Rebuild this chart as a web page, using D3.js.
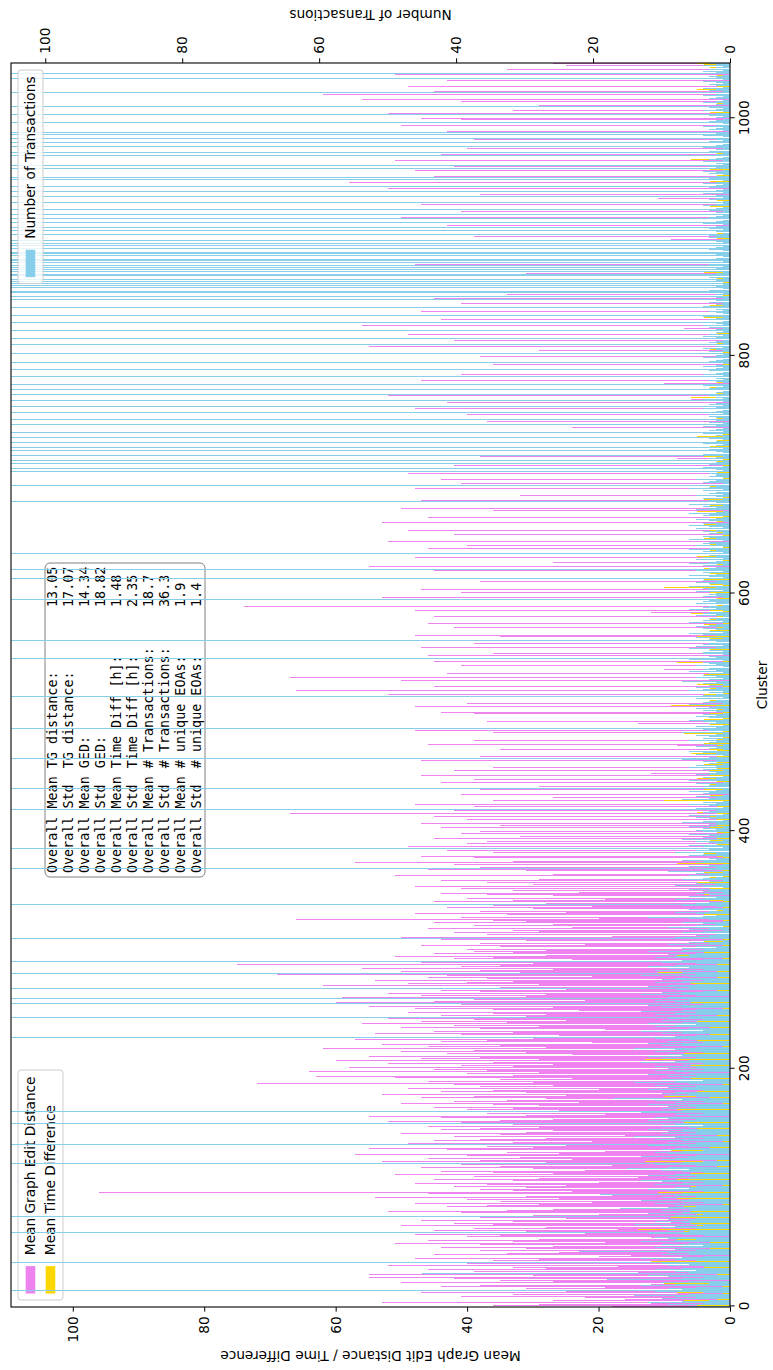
<!DOCTYPE html>
<html>
<head>
<meta charset="utf-8">
<script src="https://cdn.jsdelivr.net/npm/d3@7"></script>
<style>
  html, body { margin: 0; padding: 0; background: #fff; }
  svg { display: block; font-family: "DejaVu Sans", sans-serif; }
</style>
</head>
<body>
<svg id="chart" width="773" height="1370"></svg>
<script>
// Mean graph edit distance per cluster (left axis)
const ged = [
18,36,29,12,53,27,16,0,22,41,33,8,47,25,84,31,19,44,38,12,50,27,35,9,42,55,30,55,21,14,39,46,28,33,17,52,40,24,11,36,29,48,20,15,45,34,26,38,8,31,
44,27,38,51,19,33,46,29,12,40,35,48,22,31,45,17,39,28,50,36,42,9,33,47,25,38,44,30,20,41,52,34,27,16,43,37,29,48,21,35,40,26,54,31,18,46,96,24,33,38,
31,42,25,37,48,20,33,45,29,14,39,51,27,36,44,22,30,47,35,18,41,28,53,38,24,46,32,40,57,26,34,19,43,55,30,37,25,49,33,21,45,38,28,42,16,35,50,31,27,44,
38,29,46,33,22,41,52,35,27,44,55,31,19,37,48,26,40,33,45,29,36,50,23,42,34,28,47,39,25,53,31,44,36,20,49,38,27,42,72,30,46,35,24,51,63,33,40,29,64,37,
45,58,33,41,27,52,36,60,29,47,38,55,24,43,31,50,39,62,28,46,35,53,21,44,37,57,30,48,26,41,54,33,45,19,38,50,29,42,56,34,47,25,39,52,31,44,28,36,49,23,
36,48,27,55,41,33,60,45,22,39,59,31,47,28,52,38,44,25,57,35,62,29,49,40,33,54,37,46,21,43,69,32,50,38,27,56,41,35,75,30,47,58,24,42,36,51,28,45,33,39,
28,40,0,35,47,22,38,0,31,44,26,50,18,37,0,42,29,33,46,24,0,39,27,45,31,36,66,20,41,0,34,48,25,38,0,30,43,21,36,28,0,45,33,19,40,0,27,37,44,23,
33,0,41,0,48,30,0,37,0,44,29,0,0,51,27,0,0,31,46,0,38,0,42,0,57,33,0,0,39,47,0,0,36,0,43,0,27,49,0,0,40,0,37,0,45,0,32,0,41,0,
38,0,0,44,0,35,0,47,0,0,40,0,0,45,0,67,0,0,42,0,0,39,0,48,0,0,36,0,0,27,0,41,0,0,0,38,0,0,29,0,0,44,0,0,39,0,0,47,0,12,
0,42,0,0,36,0,0,0,0,0,47,0,0,38,0,0,0,0,0,35,0,0,8,46,0,0,0,39,0,0,0,0,0,36,0,48,0,0,0,0,0,14,0,37,0,0,0,0,0,39,
44,0,0,0,0,48,0,0,40,0,0,0,0,0,31,52,0,0,0,66,0,0,45,0,0,0,0,50,0,0,67,0,0,43,0,0,10,0,0,0,41,0,0,45,0,0,0,0,46,0,
36,0,0,0,0,47,0,0,39,0,0,0,0,0,35,48,0,0,0,0,0,0,42,0,0,46,0,0,0,0,0,45,0,0,12,0,48,0,0,74,0,0,0,0,0,39,0,53,0,0,
0,41,0,0,47,0,0,0,0,0,38,0,0,49,0,0,0,0,0,0,45,0,0,55,0,0,27,0,0,0,0,48,0,0,0,0,0,0,46,0,0,40,0,0,52,0,0,0,0,0,
42,0,0,49,0,0,0,0,0,0,53,0,0,0,46,0,0,0,0,0,36,0,50,0,0,0,0,0,0,47,0,0,0,32,0,0,0,0,0,48,0,0,0,41,0,0,44,0,0,0,
0,49,0,45,0,0,0,0,42,0,0,0,0,0,8,0,38,0,0,0,0,44,0,0,0,0,0,12,0,0,0,0,46,0,0,0,0,0,0,0,24,0,0,0,0,37,0,0,0,0,
0,40,0,0,0,0,48,0,0,0,0,43,0,0,6,0,0,52,0,0,0,0,45,0,0,0,0,10,0,0,47,0,0,0,0,41,0,0,0,0,0,0,0,36,0,50,0,0,0,0,
38,0,0,0,0,29,0,0,55,0,0,0,0,42,0,0,0,0,49,0,0,0,0,7,0,0,56,0,0,0,0,44,0,0,0,0,0,0,47,0,0,0,0,0,41,0,0,0,0,45,
0,0,34,0,0,0,0,0,0,0,0,0,0,38,0,0,0,0,0,0,31,0,0,0,0,0,0,48,0,0,0,0,0,0,0,0,0,0,0,0,0,44,0,0,0,0,0,0,9,0,
0,39,0,0,0,0,0,0,0,0,43,0,0,0,0,0,0,50,0,0,0,0,41,0,0,0,0,0,47,0,0,0,0,11,0,0,38,0,0,0,0,52,0,0,0,0,58,0,0,40,
0,45,0,0,0,0,48,0,0,0,42,0,0,0,0,51,0,0,0,0,44,0,0,0,0,40,0,0,0,0,7,0,39,0,0,0,0,0,0,43,0,0,0,0,50,0,0,0,0,41,
47,0,0,0,52,0,0,33,0,0,0,29,0,0,41,0,56,0,0,0,62,0,0,45,0,0,0,49,0,0,0,0,43,0,0,0,0,51,0,0,0,34,0,0,0,25,27
];

// Mean time difference per cluster [h] (left axis)
const timeDiff = [
2,5,1,0,3,7,2,4,0,6,3,1,8,2,0,4,5,1,3,10,2,6,0,3,4,1,7,2,5,0,3,9,1,4,2,6,0,3,12,2,5,1,4,0,3,7,2,1,5,3,
4,2,0,6,3,1,8,2,5,0,3,4,1,7,2,14,3,0,5,2,6,1,4,3,0,9,2,5,1,3,6,0,4,2,7,3,1,5,0,2,4,8,3,1,6,2,11,3,0,4,
3,6,1,4,0,5,2,8,3,1,4,2,6,0,3,5,1,7,2,4,0,3,13,2,5,1,4,3,0,6,2,9,1,4,3,0,5,2,7,1,3,4,0,6,2,3,5,1,4,2,
5,1,3,0,4,7,2,3,1,5,0,6,2,4,3,1,8,2,0,5,3,1,4,6,2,0,3,10,1,4,2,5,3,0,7,2,4,1,3,5,0,2,6,3,1,4,2,0,5,3,
2,4,0,6,3,1,5,2,13,0,4,3,1,7,2,5,0,3,4,1,6,2,3,0,5,2,8,1,4,3,0,6,2,5,1,3,4,0,7,2,5,1,3,4,0,2,9,1,3,4,
3,1,5,2,0,4,6,1,3,2,5,0,4,3,7,1,2,5,0,3,4,2,6,1,3,0,5,2,4,1,3,11,2,0,4,3,1,6,2,5,0,3,4,1,2,8,3,0,4,2,
1,2,0,3,1,0,2,4,0,1,3,0,2,1,0,5,1,2,0,3,1,0,2,7,0,1,3,0,2,1,4,0,1,2,0,3,1,0,6,2,0,1,3,0,2,1,0,4,1,2,
0,1,3,0,2,1,0,5,1,2,0,3,1,0,2,4,0,1,2,0,3,1,0,8,2,1,0,3,1,2,0,4,1,0,2,3,0,1,5,2,0,1,3,0,2,1,0,4,1,2,
2,0,1,3,0,2,1,0,4,1,2,0,3,1,0,2,5,0,1,3,0,2,1,0,3,1,10,0,2,1,3,0,1,2,0,4,1,0,2,3,0,1,2,0,5,1,0,3,1,2,
0,3,1,2,0,1,4,0,2,1,0,3,1,2,0,6,1,0,2,3,0,1,2,0,4,1,0,2,3,1,0,2,7,0,1,3,0,2,1,0,3,1,2,0,4,1,0,2,1,3,
1,0,2,3,0,1,9,0,2,1,3,0,1,2,0,4,1,0,2,1,3,0,1,5,0,2,1,0,3,1,2,0,4,1,0,2,1,3,0,1,2,0,8,1,0,3,1,2,0,1,
2,1,0,3,1,2,0,4,1,0,2,1,3,0,5,1,2,0,1,3,0,2,1,0,4,1,2,0,3,1,0,2,1,6,0,1,3,2,0,1,2,0,3,1,0,4,2,1,0,2,
1,3,0,2,1,10,0,1,3,2,0,1,4,0,2,1,0,3,1,2,0,4,1,0,2,1,3,0,1,2,0,5,1,0,2,1,3,0,2,1,0,3,1,2,0,1,4,0,2,1,
0,2,1,3,0,1,2,0,4,1,0,2,1,0,3,1,2,0,1,5,0,2,1,0,3,1,0,2,1,4,0,1,2,0,3,1,0,2,1,0,3,2,0,1,2,0,4,1,0,2,
1,0,2,0,1,0,3,0,1,0,0,2,0,1,0,4,0,1,0,0,2,0,1,0,3,0,0,1,0,2,0,0,5,0,1,0,0,2,0,1,0,0,3,0,1,0,0,2,0,1,
0,2,0,1,0,0,3,0,1,0,2,0,0,1,0,6,0,0,2,0,1,0,0,3,0,1,0,0,2,0,0,1,0,4,0,0,1,0,2,0,0,3,0,1,0,0,2,0,0,1,
2,0,0,1,0,3,0,1,0,0,2,0,1,0,0,7,0,1,0,2,0,0,1,0,3,0,0,2,0,1,0,0,4,0,1,0,0,2,0,1,0,0,3,0,0,1,0,2,0,0,
0,1,0,0,2,0,0,1,0,3,0,0,1,0,0,2,0,0,1,0,4,0,0,1,0,0,2,0,0,1,0,3,0,0,1,0,0,2,0,0,1,0,0,3,0,0,1,0,0,2,
0,1,0,2,0,0,1,0,3,0,0,1,0,2,0,0,5,0,1,0,0,2,0,0,1,0,3,0,0,1,0,2,0,0,1,0,0,4,0,1,0,0,2,0,0,1,0,3,0,0,
1,0,2,0,0,1,0,3,0,0,1,0,2,0,0,6,0,1,0,0,2,0,1,0,0,3,0,0,1,0,2,0,0,4,0,1,0,0,2,0,1,0,0,3,0,0,1,0,2,0,
0,2,0,1,0,3,0,0,1,0,4,0,2,0,0,1,0,3,0,0,2,0,1,0,5,0,0,2,0,1,0,3,0,0,1,0,2,0,6,0,1,0,0,3,0,4,5
];

// Number of transactions per cluster (right axis)
const transactions = [
6,9,4,12,7,3,10,5,8,14,6,4,11,150,7,9,5,13,8,3,10,6,18,7,4,9,12,45,6,8,5,11,7,4,9,6,10,180,5,8,13,7,4,10,6,9,22,5,8,11,
7,4,10,6,13,8,5,9,11,4,7,12,130,6,9,5,10,8,4,14,7,11,6,9,5,240,8,4,12,7,10,6,16,9,5,8,11,4,7,13,6,10,5,8,19,7,4,9,12,6,
8,5,11,7,4,10,13,6,9,5,12,8,4,7,10,6,15,9,5,11,160,7,4,10,8,6,13,5,9,11,7,4,10,8,6,12,200,5,9,7,11,4,8,14,6,10,5,9,7,12,
6,10,4,8,140,7,12,5,9,11,6,8,4,13,300,7,10,5,9,6,12,8,4,11,7,17,5,9,6,10,8,4,12,7,9,5,11,6,14,8,4,10,7,9,5,12,6,8,11,4,
9,5,11,7,4,13,8,6,10,5,12,7,9,4,11,6,8,14,5,10,7,12,4,9,6,11,170,8,5,10,7,13,4,9,6,11,8,5,12,7,10,4,9,190,6,11,8,5,13,7,
5,10,7,12,4,140,8,11,6,210,9,5,13,7,10,4,8,160,6,12,9,5,11,7,4,10,8,6,13,5,230,7,11,4,9,6,12,8,5,10,150,7,4,11,8,6,9,5,12,7,
4,7,2,5,9,3,6,1,4,170,8,3,5,2,7,4,1,6,3,9,5,2,4,7,1,3,6,12,4,2,5,8,3,1,6,4,2,7,160,5,3,1,8,4,2,6,3,5,1,4,
3,6,1,4,8,2,5,3,1,7,4,2,6,3,5,1,9,4,140,2,6,3,1,5,4,7,2,3,1,6,4,2,8,5,3,200,1,4,6,2,3,5,1,7,4,2,3,6,1,4,
5,2,4,1,6,3,2,7,4,1,3,5,2,6,1,4,3,2,150,5,1,3,6,2,4,1,7,3,2,5,1,4,3,6,2,1,180,4,3,2,5,1,6,3,2,4,1,5,3,2,
3,1,4,6,2,5,1,3,4,2,7,130,3,1,5,2,4,6,1,3,2,5,1,4,3,2,6,1,4,3,5,2,1,7,3,4,140,2,5,1,3,2,4,6,1,3,5,2,4,1,
2,4,1,5,3,2,6,1,4,3,2,5,1,220,4,2,3,1,6,4,2,5,3,1,4,2,7,3,1,5,2,4,3,1,6,2,4,3,1,5,2,3,4,1,6,170,2,3,1,4,
4,1,3,6,2,5,1,4,3,2,150,3,1,5,2,4,6,1,3,2,4,1,5,3,2,6,1,4,2,3,1,5,2,4,3,1,6,2,4,3,1,5,2,4,3,190,1,4,2,3,
2,5,1,3,4,2,6,1,3,5,2,4,160,1,3,6,2,4,1,5,140,3,2,4,1,6,3,2,5,1,4,2,3,170,1,4,2,6,3,1,5,2,4,3,1,6,2,3,4,1,
3,1,4,2,5,1,3,6,2,4,1,3,5,2,1,4,3,6,2,1,5,3,2,4,1,6,2,150,3,1,4,2,5,1,3,2,4,1,6,3,2,120,1,4,3,2,5,1,3,2,
2,3,200,1,2,150,4,1,3,180,2,1,140,3,2,1,250,4,1,2,160,3,1,130,2,1,4,170,2,1,3,210,1,2,4,150,1,3,2,1,4,2,190,1,3,2,140,1,2,3,
3,1,180,2,1,4,2,150,1,3,2,1,200,4,1,2,3,160,1,2,1,140,3,2,1,4,230,1,2,3,1,2,170,1,4,2,1,3,150,2,1,4,2,1,190,3,2,1,4,2,
2,1,160,3,1,2,4,1,2,150,1,3,2,1,210,2,4,1,3,2,1,170,2,1,3,4,1,2,140,1,3,2,1,4,200,1,2,3,1,2,160,4,1,2,1,3,2,180,1,2,
180,2,1,200,150,3,1,170,2,160,1,240,140,2,190,1,3,150,210,2,1,160,180,2,130,1,200,3,170,1,150,220,2,1,160,2,190,140,1,3,170,2,1,200,150,1,2,180,1,3,
2,3,170,1,2,150,1,3,200,2,1,4,160,2,1,190,3,2,1,140,2,1,3,180,2,1,4,2,1,210,1,3,2,1,150,2,4,1,170,2,1,3,200,2,1,4,2,1,160,3,
150,2,1,3,2,4,1,180,2,3,200,1,2,4,1,3,2,1,160,2,1,140,3,2,1,4,190,2,1,170,3,1,2,220,1,4,150,2,180,1,3,2,1,4,2,1,160,3,2,1,
2,1,3,160,2,1,4,2,1,3,180,2,1,4,2,1,3,2,1,4,2,150,1,3,2,4,1,2,3,1,2,4,1,200,2,3,1,170,2,4,1,3,2,1,4,2,3
];

const gedTicks = [0, 20, 40, 60, 80, 100];
const txTicks = [0, 20, 40, 60, 80, 100];
const clusterTicks = [0, 200, 400, 600, 800, 1000];
const gedMax = 109.4;
const txMax = 105;

const seriesNames = ["Mean Graph Edit Distance", "Mean Time Difference", "Number of Transactions"];
const seriesColors = ["violet", "gold", "skyblue"];

const statsLines = [
  "Overall Mean TG distance:        13.05",
  "Overall Std  TG distance:        17.07",
  "Overall Mean GED:                14.34",
  "Overall Std  GED:                18.82",
  "Overall Mean Time Diff [h]:      1.48",
  "Overall Std  Time Diff [h]:      2.35",
  "Overall Mean # Transactions:     18.7",
  "Overall Std  # Transactions:     36.3",
  "Overall Mean # unique EOAs:      1.9",
  "Overall Std  # unique EOAs:      1.4"
];

// The figure is laid out landscape (W x H) and then turned a quarter turn
// counter-clockwise onto the portrait page.
const W = 1370, H = 773;
const FS = 13.7;      // regular text
const FS_MONO = 13.4; // statistics box
const box = { left: 63, right: 1307, top: 11, bottom: 730 };

const svg = d3.select("#chart");
const fig = svg.append("g").attr("transform", `translate(0,${W}) rotate(-90)`);
fig.append("rect").attr("width", W).attr("height", H).attr("fill", "#fff");

const x = d3.scaleLinear().domain([-0.5, ged.length - 0.5]).range([box.left, box.right]);
const yL = d3.scaleLinear().domain([0, gedMax]).range([box.bottom, box.top]);
const yR = d3.scaleLinear().domain([0, txMax]).range([box.bottom, box.top]);

svg.append("defs").append("clipPath").attr("id", "plotClip")
  .append("rect").attr("x", box.left).attr("y", box.top)
  .attr("width", box.right - box.left).attr("height", box.bottom - box.top);

function drawBars(parent, values, offset, scale, color) {
  parent.append("g").attr("clip-path", "url(#plotClip)").attr("shape-rendering", "crispEdges")
    .selectAll("rect")
    .data(values.map((v, i) => ({ i, v })).filter(d => d.v > 0))
    .join("rect")
    .attr("x", d => Math.floor(x(d.i + offset)))
    .attr("width", 1)
    .attr("y", d => scale(d.v))
    .attr("height", d => scale(0) - scale(d.v))
    .attr("fill", color);
}

function drawLegend(parent, names, colors, anchorX, top, alignRight) {
  const g = parent.append("g");
  const pad = 0.4 * FS, hl = 2 * FS, hh = 0.7 * FS, htp = 0.8 * FS, rowH = 20;
  const frame = g.append("rect");
  const texts = names.map((n, k) => g.append("text")
    .attr("y", top + pad + 7 + k * rowH + 4.8)
    .attr("font-size", FS).attr("fill", "#000").text(n));
  const tw = d3.max(texts, t => t.node().getComputedTextLength());
  const w = pad * 2 + hl + htp + tw + 2;
  const left = alignRight ? anchorX - w : anchorX;
  const h = names.length * rowH + 5;
  frame.attr("x", left).attr("y", top).attr("width", w).attr("height", h)
    .attr("rx", 3).attr("fill", "#fff").attr("fill-opacity", 0.8)
    .attr("stroke", "#cccccc").attr("stroke-width", 1);
  names.forEach((n, k) => {
    const cy = top + pad + 7 + k * rowH;
    g.append("rect").attr("x", left + pad + 1).attr("y", cy - hh / 2)
      .attr("width", hl).attr("height", hh).attr("fill", colors[k]);
    texts[k].attr("x", left + pad + 1 + hl + htp);
  });
}

// Left axis layer: graph edit distance and time difference
drawBars(fig, ged, -0.3, yL, seriesColors[0]);
drawBars(fig, timeDiff, 0, yL, seriesColors[1]);

// Summary statistics box
const stats = fig.append("g");
const sx = 497, sy0 = 57, sdy = 16;
stats.append("rect").attr("x", 493).attr("y", 45).attr("width", 314).attr("height", 160)
  .attr("rx", 5).attr("fill", "#fff").attr("fill-opacity", 0.5)
  .attr("stroke", "#808080").attr("stroke-width", 1);
stats.selectAll("text").data(statsLines).join("text")
  .attr("x", sx).attr("y", (d, i) => sy0 + i * sdy)
  .attr("font-family", "'DejaVu Sans Mono', monospace").attr("font-size", FS_MONO)
  .style("white-space", "pre").attr("fill", "#000").text(d => d);

drawLegend(fig, seriesNames.slice(0, 2), seriesColors.slice(0, 2), 70, 18, false);

// Right axis layer: transactions
drawBars(fig, transactions, 0.3, yR, seriesColors[2]);
drawLegend(fig, seriesNames.slice(2), seriesColors.slice(2), 1300, 18, true);

// Axes
const tick = 4.67;
function styleAxis(g) {
  g.select(".domain").remove();
  g.selectAll("text").attr("font-family", "'DejaVu Sans', sans-serif").attr("font-size", FS).attr("fill", "#000");
  g.selectAll("line").attr("stroke", "#000").attr("stroke-width", 1);
}
fig.append("g").attr("transform", `translate(${box.left},0)`)
  .call(d3.axisLeft(yL).tickValues(gedTicks).tickFormat(d3.format("d")).tickSize(tick).tickPadding(4.67))
  .call(styleAxis);
fig.append("g").attr("transform", `translate(${box.right},0)`)
  .call(d3.axisRight(yR).tickValues(txTicks).tickFormat(d3.format("d")).tickSize(tick).tickPadding(4.67))
  .call(styleAxis);
fig.append("g").attr("transform", `translate(0,${box.bottom})`)
  .call(d3.axisBottom(x).tickValues(clusterTicks).tickFormat(d3.format("d")).tickSize(tick).tickPadding(4.67))
  .call(styleAxis);

fig.append("rect").attr("x", box.left).attr("y", box.top)
  .attr("width", box.right - box.left).attr("height", box.bottom - box.top)
  .attr("fill", "none").attr("stroke", "#000").attr("stroke-width", 1.1);

// Axis titles
fig.append("text").attr("x", (box.left + box.right) / 2).attr("y", 767)
  .attr("text-anchor", "middle").attr("font-size", FS).text("Cluster");
fig.append("text").attr("transform", `translate(19,${(box.top + box.bottom) / 2}) rotate(-90)`)
  .attr("text-anchor", "middle").attr("font-size", FS).text("Mean Graph Edit Distance / Time Difference");
fig.append("text").attr("transform", `translate(1360,${(box.top + box.bottom) / 2}) rotate(-90)`)
  .attr("text-anchor", "middle").attr("font-size", FS).text("Number of Transactions");
</script>
</body>
</html>
